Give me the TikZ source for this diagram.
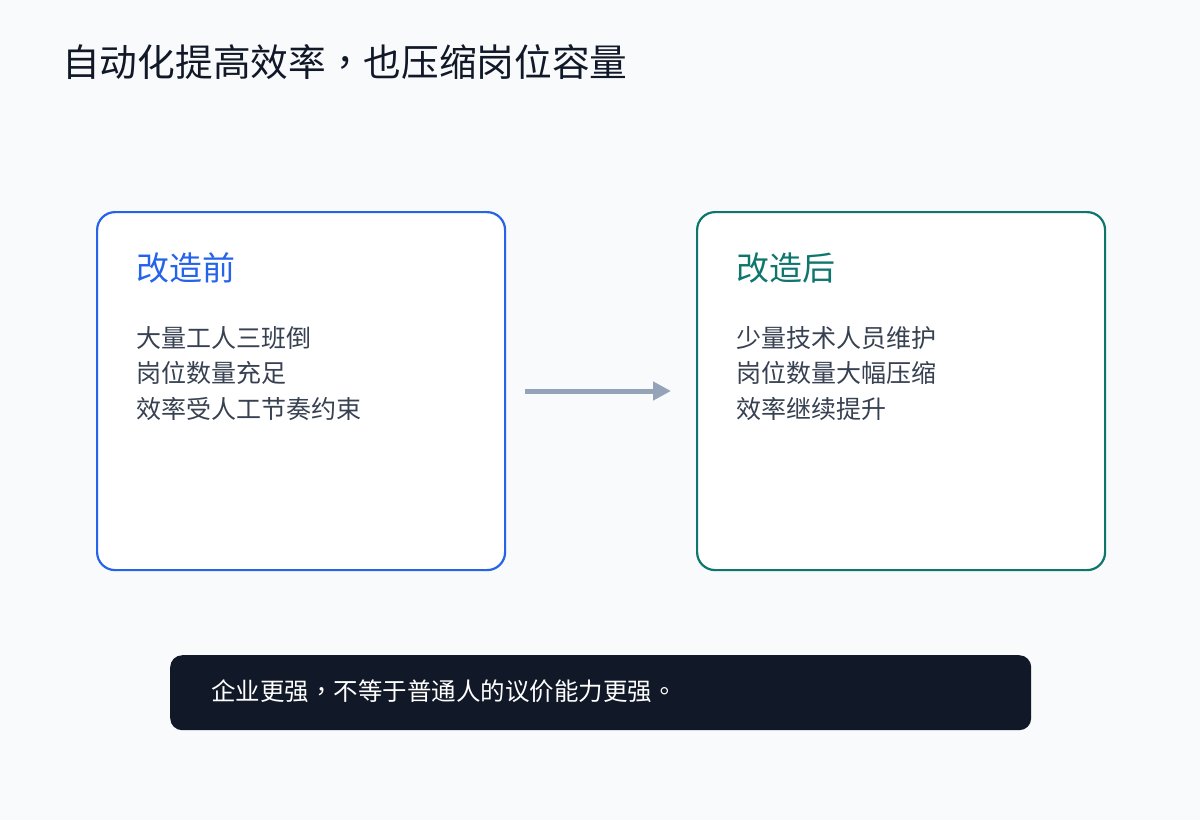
\documentclass[tikz,border=0pt]{standalone}
\usepackage{fontspec}
\setmainfont{Noto Sans CJK SC}
\newfontfamily\tcp{Noto Sans CJK TC}
\usetikzlibrary{arrows.meta}
\definecolor{bg}{HTML}{F8FAFC}
\definecolor{ink}{HTML}{111827}
\definecolor{bluec}{HTML}{2563EB}
\definecolor{tealc}{HTML}{0F766E}
\definecolor{bodyc}{HTML}{374151}
\definecolor{arrowc}{HTML}{94A3B8}
\definecolor{barc}{HTML}{111827}
\tikzset{
  panel/.style={draw=#1, line width=2.2pt, fill=white, rounded corners=18pt},
  headtxt/.style={anchor=base west, font=\fontsize{33}{38}\selectfont, text=#1, inner sep=0pt},
  bodytxt/.style={anchor=north west, font=\fontsize{25}{35.5}\selectfont, text=bodyc, inner sep=0pt, align=left},
}
\begin{document}
\begin{tikzpicture}[x=1pt,y=-1pt]
\fill[bg] (0,0) rectangle (1200,820);
\useasboundingbox (0,0) rectangle (1200,820);
\node[anchor=base west, inner sep=0pt, font=\fontsize{37.7}{42}\selectfont, text=ink] (title) at (62,76) {自动化提高效率{\tcp ，}也压缩岗位容量};
\node[panel=bluec, minimum width=408pt, minimum height=358pt, anchor=north west] (left) at (96,211) {};
\node[panel=tealc, minimum width=408pt, minimum height=358pt, anchor=north west] (right) at (696,211) {};
\node[headtxt=bluec] (lh) at (136,280) {改造前};
\node[headtxt=tealc] (rh) at (736,280) {改造后};
\node[bodytxt] (lb) at (136,326) {大量工人三班倒\\岗位数量充足\\效率受人工节奏约束};
\node[bodytxt] (rb) at (736,326) {少量技术人员维护\\岗位数量大幅压缩\\效率继续提升};
\coordinate (a1) at (525,391);
\coordinate (a2) at (671,391);
\draw[arrowc, line width=5pt, -{Triangle[length=18pt,width=18pt]}] (a1) -- (a2);
\node[fill=barc, rounded corners=12pt, minimum width=861pt, minimum height=75pt, anchor=north west] (bar) at (170,655) {};
\node[anchor=west, inner sep=0pt, font=\fontsize{24.5}{28}\selectfont, text=white] (bt) at (211,691) {企业更强{\tcp ，}不等于普通人的议价能力更强{\tcp 。}};
\end{tikzpicture}
\end{document}
